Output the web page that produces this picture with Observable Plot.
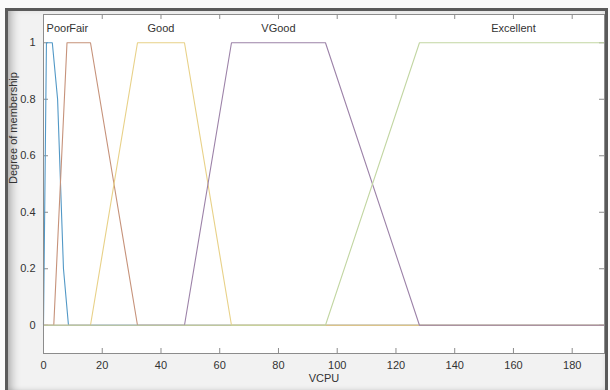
<!DOCTYPE html>
<html><head><meta charset="utf-8">
<script src="https://cdn.jsdelivr.net/npm/d3@7"></script>
<script src="https://cdn.jsdelivr.net/npm/@observablehq/plot@0.6"></script>
<style>
html,body{margin:0;padding:0;background:#ffffff;}
#wrap{position:relative;width:610px;height:390px;overflow:hidden;background:#fafafa;}
#win{position:absolute;left:5px;top:8px;width:597px;height:384px;border:3px solid #5a5a5a;border-bottom:none;background:#f2f2f2;
 box-shadow: inset 8px 0 8px -4px rgba(0,0,0,.25), inset 0 -6px 6px -3px rgba(0,0,0,.3);}
#chart{position:absolute;left:0;top:0;}
#chart svg{background:transparent !important;}
</style></head>
<body><div id="wrap"><div id="win"></div><div id="chart"></div></div>
<script>
const names = ["Poor", "Fair", "Good", "VGood", "Excellent"];
const colors = ["#5298c6", "#c6927a", "#e8d188", "#9c82a8", "#c2d6a2"];
// breakpoints (x) and membership (y)
const poorX = [0, 1, 3, 4.8, 6.8, 8.5, 191];
const poorY = [0, 1, 1, 0.8, 0.2, 0, 0];
const fairX = [0, 3.5, 8, 16, 32, 191];
const fairY = [0, 0, 1, 1, 0, 0];
const goodX = [0, 16, 32, 48, 64, 191];
const goodY = [0, 0, 1, 1, 0, 0];
const vgoodX = [0, 48, 64, 96, 128, 191];
const vgoodY = [0, 0, 1, 1, 0, 0];
const excX = [0, 96, 128, 191];
const excY = [0, 0, 1, 1];
const labelX = [5, 12, 40, 80, 160];
const xTicks = [0, 20, 40, 60, 80, 100, 120, 140, 160, 180];
const yTicks = [0, 0.2, 0.4, 0.6, 0.8, 1];

const seriesX = [poorX, fairX, goodX, vgoodX, excX];
const seriesY = [poorY, fairY, goodY, vgoodY, excY];
const rows = [];
seriesX.forEach((xs, i) => xs.forEach((x, j) => rows.push({name: names[i], x, y: seriesY[i][j]})));
const labels = names.map((n, i) => ({name: n, x: labelX[i], y: 1.05}));

const W = 610, H = 390, mL = 43, mR = 6, mT = 14, mB = 37;
const fw = W - mL - mR, fh = H - mT - mB, tk = 5;
const gray = "#8c8c8c";
const plot = Plot.plot({
  width: W, height: H,
  marginLeft: mL, marginRight: mR, marginTop: mT, marginBottom: mB,
  style: {fontFamily: "Liberation Sans, Arial, sans-serif", fontSize: "11px", color: "#333", background: "transparent"},
  x: {domain: [0, 191], label: null},
  y: {domain: [-0.1, 1.1], label: null},
  color: {domain: names, range: colors},
  marks: [
    Plot.frame({fill: "white", stroke: "none"}),
    Plot.axisX({ticks: xTicks, tickSize: 0, tickPadding: 8, fill: "#333", fontSize: 11}),
    Plot.axisY({ticks: yTicks, tickSize: 0, tickPadding: 8, fill: "#333", fontSize: 11, tickFormat: d => String(d)}),
    Plot.tickX(xTicks, {x: d => d, insetTop: fh - tk, stroke: gray}),
    Plot.tickX(xTicks, {x: d => d, insetBottom: fh - tk, stroke: gray}),
    Plot.tickY(yTicks, {y: d => d, insetRight: fw - tk, stroke: gray}),
    Plot.tickY(yTicks, {y: d => d, insetLeft: fw - tk, stroke: gray}),
    Plot.line(rows, {x: "x", y: "y", z: "name", stroke: "name", strokeWidth: 1.1}),
    Plot.text(labels, {x: "x", y: "y", text: "name", fill: "#333", fontSize: 11}),
    Plot.frame({stroke: gray, strokeWidth: 1}),
    Plot.text(["VCPU"], {frameAnchor: "bottom", dy: 28, fill: "#333", fontSize: 11}),
    Plot.text(["Degree of membership"], {frameAnchor: "left", dx: -30, rotate: -90, fill: "#333", fontSize: 11})
  ]
});
document.getElementById("chart").appendChild(plot);
</script></body></html>
